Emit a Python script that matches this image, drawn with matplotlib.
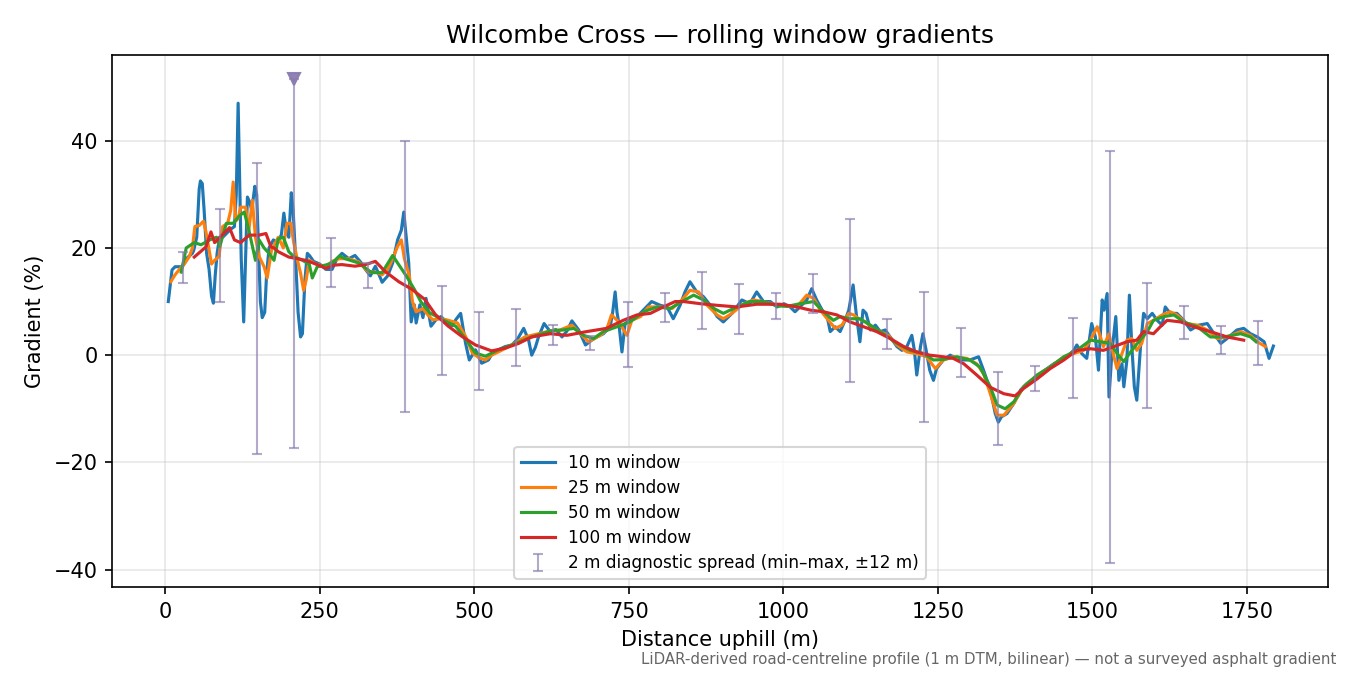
import matplotlib
matplotlib.use("Agg")
import matplotlib.pyplot as plt

# ---- data ----
d10 = [5, 11, 16, 28, 31, 44, 46, 51, 55, 57, 60, 63, 67, 71, 75, 78, 81, 84, 88, 93, 100, 106, 112, 115, 118, 120, 123, 127, 130, 133,
       137, 140, 145, 148, 151, 154, 157, 161, 164, 168, 175, 182, 188, 192, 196, 200, 204, 207, 211, 215, 219, 222, 226, 230, 234, 240,
       250, 260, 270, 278, 286, 297, 307, 316, 324, 332, 340, 346, 351, 360, 368, 376, 382, 386, 390, 394, 398, 403, 406, 412, 417, 422,
       430, 438, 446, 457, 465, 470, 478, 486, 492, 502, 512, 523, 530, 539, 550, 561, 570, 580, 588, 593, 599, 604, 613, 623, 632, 642,
       650, 658, 669, 680, 690, 700, 709, 720, 724, 728, 731, 734, 739, 744, 752, 766, 776, 787, 801, 812, 822, 833, 841, 849, 860, 871,
       882, 893, 903, 917, 933, 946, 957, 968, 979, 990, 1001, 1011, 1019, 1027, 1038, 1046, 1054, 1063, 1071, 1076, 1084, 1092, 1100,
       1106, 1113, 1118, 1124, 1129, 1134, 1141, 1149, 1157, 1165, 1173, 1184, 1192, 1200, 1208, 1212, 1216, 1222, 1226, 1231, 1237, 1243,
       1248, 1259, 1270, 1281, 1292, 1302, 1316, 1324, 1335, 1343, 1348, 1353, 1362, 1373, 1384, 1394, 1405, 1416, 1427, 1438, 1449, 1459,
       1470, 1475, 1483, 1491, 1499, 1505, 1510, 1516, 1519, 1524, 1527, 1532, 1538, 1543, 1548, 1551, 1556, 1560, 1564, 1568, 1572, 1578,
       1583, 1589, 1597, 1605, 1613, 1618, 1626, 1637, 1648, 1659, 1672, 1686, 1697, 1708, 1718, 1734, 1745, 1756, 1767, 1778, 1786, 1793]
g10 = [10, 15.9, 16.5, 16.5, 17.7, 19, 19.5, 22, 31, 32.5, 32, 27, 19, 16, 11, 9.7, 15, 19, 22, 22, 22.8, 23.5, 24, 30, 47, 35, 18, 6.2, 18, 29.5,
       28.5, 27, 31.5, 30, 20, 10, 7, 8, 15, 20, 21.5, 21, 22.5, 26.5, 23, 22, 30.3, 27, 18, 8, 3.4, 4, 14, 19, 18.5, 17.5,
       17, 16, 16, 18, 19, 18, 18.6, 17.4, 16, 14.8, 16.6, 15, 13.6, 14.8, 17.2, 21.5, 23.3, 26.7, 22, 17.2, 6.2, 9.4, 6, 9.4, 7, 10.6,
       5.4, 6.6, 7.2, 6, 5.5, 6.6, 7.8, 2.2, -0.9, 1, -1.5, -0.9, 0.5, 1, 1.6, 1.9, 3, 5, 2.8, 0, 1.5, 3.4, 5.9, 4.4, 4.8, 3.4,
       4.5, 6.4, 4.7, 1.9, 2.8, 3.5, 4, 5.3, 8, 11.8, 8, 5.9, 0.6, 5.9, 6.5, 7.5, 8.7, 10, 9.3, 9, 6.8, 9.3, 11.8, 13.7, 11.8, 10.9,
       9.3, 7.2, 6.2, 7.8, 10.3, 9.6, 11.8, 10, 10, 9, 9.6, 9, 8.1, 9, 10.3, 12.4, 10.3, 8.4, 7.2, 4.4, 5.3, 4.4, 6.5,
       8.4, 13.1, 7.8, 2.5, 8.4, 7.8, 4.7, 5.6, 4.4, 4.7, 3.4, 1.6, 0.9, 1.6, 3.7, 1, -3.7, 1.6, 4, 1, -2.8, -4.7,
       -2.5, -0.9, 0, -0.6, -0.9, -0.9, -0.3, -2.8, -6.5, -10.9, -12.5, -11.5, -10.9, -9, -6.5, -5.3, -4.4, -3.4, -2.5, -1.6, -0.9, -0.3,
       0.9, 1.9, 0.3, -0.6, 5.9, 3.4, -2.8, 10.3, 8.4, 11.5, -7.8, 0.9, 7.2, -4.7, -1.6, -5.9, -0.9, 11.2, 1.6, -5.9, -8.4, 1.6,
       7.8, 6.8, 7.8, 6.5, 5.6, 9, 7.8, 7.8, 6.5, 4.7, 5.6, 5.9, 4, 2.2, 3.1, 4.7, 5, 4, 3.4, 2.5, -0.6, 1.7]

d25 = [9, 16, 23, 31, 39, 44, 48, 55, 62, 66, 69, 75, 80, 87, 93, 101, 106, 110, 114, 118, 122, 130, 135, 141, 146, 152, 160, 165, 172,
       183, 191, 197, 203, 208, 214, 219, 224, 228, 233, 244, 260, 270, 282, 297, 313, 329, 340, 351, 360, 368, 376, 382, 387, 395, 400,
       406, 417, 425, 433, 445, 455, 473, 486, 497, 508, 518, 528, 539, 561, 582, 604, 626, 639, 658, 672, 685, 704, 714, 722, 734, 747,
       755, 769, 782, 801, 820, 836, 849, 863, 877, 893, 903, 917, 936, 952, 968, 990, 1001, 1022, 1038, 1049, 1060, 1073, 1084, 1095,
       1106, 1114, 1122, 1133, 1143, 1157, 1170, 1184, 1200, 1216, 1232, 1246, 1259, 1275, 1297, 1313, 1324, 1335, 1346, 1357, 1373,
       1389, 1411, 1432, 1454, 1470, 1486, 1497, 1508, 1518, 1527, 1535, 1540, 1548, 1556, 1564, 1572, 1580, 1589, 1599, 1613, 1626,
       1637, 1653, 1670, 1686, 1702, 1718, 1740, 1756, 1767, 1780]
g25 = [13.7, 15, 16, 17, 18.4, 20, 24, 24.2, 25, 23, 21, 17, 17.7, 18.4, 24, 24.6, 27, 32.3, 25, 25.5, 27.6, 27.6, 23, 28.9, 22, 18.4, 16.5, 14.4, 19.6,
       22, 20, 24.6, 24.6, 21, 17.7, 15.3, 12.1, 14, 17.7, 17, 16.5, 17.5, 18, 18, 17.4, 15.5, 15.5, 15, 16, 18, 20.3, 21.5, 18, 14.8, 10,
       8.1, 8.7, 7.5, 6.6, 6.8, 6.6, 6, 3.5, 0.4, -0.5, -0.9, 0, 0.6, 1.9, 3.4, 4, 4.6, 4.7, 5.6, 4, 2.5, 3.7, 4.7, 7.5, 6.2, 3.7,
       6.5, 7.2, 9, 9, 8.7, 10.3, 12.1, 11.8, 9.3, 7.5, 6.8, 7.8, 9.6, 10.3, 10, 9.3, 9.3, 9, 11.2, 10.6, 8.4, 6.5, 5, 5.6,
       7.8, 7.5, 6.8, 6.2, 5.3, 4.4, 3.7, 1.9, 0.6, 0.3, -0.3, -2.5, -0.9, -0.3, -0.6, -1.6, -3.4, -7.2, -11.2, -11.2, -9,
       -5.9, -3.7, -2.2, -0.3, 0.3, 0.9, 2.8, 5.3, 1.6, 4, -0.3, -2.5, 0.3, 2.8, 3.1, 0.9, 2.2, 5.9, 6.5, 7.5, 8.1,
       7.5, 5.9, 5.6, 4.7, 3.1, 3.4, 4.4, 3.7, 2.5, 1.6]

d50 = [26, 34, 47, 58, 72, 83, 88, 99, 110, 120, 128, 136, 146, 152, 160, 168, 176, 183, 191, 200, 208, 222, 233, 238, 246, 259, 270,
       282, 291, 313, 334, 351, 368, 376, 390, 403, 414, 428, 449, 470, 486, 502, 518, 539, 561, 593, 623, 644, 661, 677, 693, 709, 731,
       752, 774, 796, 817, 836, 855, 871, 888, 903, 925, 946, 968, 990, 1006, 1027, 1049, 1065, 1081, 1092, 1108, 1124, 1141, 1162,
       1184, 1205, 1227, 1243, 1259, 1281, 1302, 1318, 1335, 1346, 1359, 1373, 1389, 1411, 1432, 1454, 1475, 1497, 1513, 1529, 1540,
       1551, 1562, 1575, 1589, 1599, 1616, 1632, 1648, 1670, 1691, 1713, 1740, 1756, 1765]
g50 = [15.5, 20, 21, 20.6, 21.5, 22, 20.2, 24.6, 24.6, 26, 26.7, 23, 17.7, 21.5, 20, 19, 17.7, 21.7, 22, 19.3, 18.4, 17.7, 17, 14.4, 16.5, 16.8, 17.2,
       18.5, 18, 17.2, 15.4, 15.4, 18.6, 17.2, 14.8, 12.3, 9.9, 7.9, 6.6, 5.4, 3, 0.4, -0.2, 1, 1.9, 3.4, 4.5, 4.7, 5, 3.7, 3.1, 4.4, 5.3,
       6.2, 8.1, 9, 8.7, 10, 11.2, 10.3, 8.7, 7.8, 9, 10, 10, 9.2, 9.1, 9.6, 10, 8.1, 6.5, 7.2, 6.8, 6.8, 5.6, 4,
       2.2, 0.9, 0.3, -0.9, -0.8, -0.3, -0.9, -2.2, -5.9, -9.3, -10, -8.7, -5.9, -3.7, -2.2, -0.3, 0.9, 2.8, 2.5, 2.2, 0.3,
       -1.2, 0.6, 2.5, 4.4, 6.5, 7.2, 7.5, 6.2, 5.3, 3.4, 3.4, 4, 3.4, 2.5]

d100 = [47, 56, 66, 74, 80, 93, 104, 112, 122, 136, 152, 163, 171, 176, 183, 200, 214, 227, 244, 260, 273, 286, 307, 324, 340, 356, 378,
        399, 420, 437, 458, 480, 502, 528, 550, 572, 593, 623, 650, 682, 714, 741, 763, 785, 806, 825, 839, 866, 893, 925, 957, 995, 1022,
        1044, 1065, 1087, 1108, 1130, 1151, 1173, 1195, 1216, 1237, 1259, 1275, 1292, 1313, 1335, 1357, 1375, 1389, 1411, 1432, 1454,
        1475, 1497, 1518, 1535, 1556, 1572, 1583, 1599, 1610, 1621, 1643, 1664, 1691, 1718, 1745]
g100 = [18.3, 19.2, 20.2, 23, 21, 22.5, 23.8, 21.5, 21, 22.4, 22.4, 22.7, 20.2, 20, 19.3, 18.3, 18, 17.7, 17, 16.2, 16.8, 16.9, 16.6, 16.9, 17.5, 15.6, 13.7,
        12.3, 10.4, 7.6, 5.4, 3.5, 1.9, 0.8, 1.3, 2.2, 3.4, 4, 3.7, 4.4, 5, 6.5, 7.5, 7.8, 9, 10, 10, 9.6, 9.3, 9, 9.5, 9.5, 9,
        8.4, 8.1, 7.5, 6.2, 5.3, 4.4, 3.1, 1.6, 0.6, 0, -0.3, -0.6, -1.6, -3.7, -6, -7.2, -7.6, -6.2, -4.4, -2.5, -0.9,
        0.9, 1.2, 0.9, 1.6, 2.5, 2.8, 4.4, 4, 5.3, 6.5, 6.2, 5.3, 4.4, 3.4, 2.8]

spread_x = [28, 88, 148, 208, 268, 328, 388, 448, 508, 568, 628, 688, 748, 808, 868, 928, 988, 1048, 1108, 1168, 1228, 1288, 1348,
            1408, 1468, 1528, 1588, 1648, 1708, 1768]
spread_lo = [13.5, 9.9, -18.5, -17.3, 12.7, 12.6, -10.6, -3.7, -6.5, -2.0, 1.9, 0.9, -2.2, 6.2, 4.9, 4.0, 6.8, 7.9, -5.0, 1.2, -12.4,
             -4.0, -16.8, -6.7, -8.0, -38.7, -9.8, 3.0, 0.3, -1.9]
spread_hi = [19.2, 27.2, 35.9, 51.6, 21.9, 17.2, 40.0, 12.9, 8.1, 8.6, 5.7, 3.5, 10.0, 11.6, 15.5, 13.2, 11.6, 15.2, 25.4, 6.8, 11.8,
             5.1, -3.1, -2.1, 7.0, 38.1, 13.5, 9.2, 5.5, 6.3]
clipped_x = [208]
clipped_y = [51.6]

series = [("10 m window", d10, g10, "C0"),
          ("25 m window", d25, g25, "C1"),
          ("50 m window", d50, g50, "C2"),
          ("100 m window", d100, g100, "C3")]

fig, ax = plt.subplots(figsize=(9, 4.5), dpi=150)
fig.subplots_adjust(left=0.083, right=0.984, top=0.9185, bottom=0.130)

for i, (lab, xs, ys, c) in enumerate(series):
    ax.plot(xs, ys, color=c, lw=1.5, label=lab, zorder=2 + i)

mid = [(a + b) / 2 for a, b in zip(spread_lo, spread_hi)]
yerr = [[m - a for m, a in zip(mid, spread_lo)], [b - m for m, b in zip(mid, spread_hi)]]
ax.errorbar(spread_x, mid, yerr=yerr, fmt="none", ecolor="#8a7bb0", elinewidth=1.0,
            capsize=2.5, capthick=1.0, alpha=0.65, zorder=7,
            label="2 m diagnostic spread (min\u2013max, \u00b112 m)")
ax.plot(clipped_x, clipped_y, marker="v", ls="none", color="#8a7bb0", ms=6, alpha=0.95, zorder=8)

ax.set_xlim(-86, 1882)
ax.set_ylim(-43.3, 56)
ax.grid(True, alpha=0.3)
ax.set_xlabel("Distance uphill (m)")
ax.set_ylabel("Gradient (%)")
ax.set_title("Wilcombe Cross \u2014 rolling window gradients", fontsize=12)
ax.legend(loc="lower center", fontsize=8.1, labelspacing=0.42)
fig.text(0.99, 0.012, "LiDAR-derived road-centreline profile (1 m DTM, bilinear) \u2014 not a surveyed asphalt gradient",
         ha="right", va="bottom", fontsize=7.2, color="#666666")

fig.savefig("out.png", dpi=150)
